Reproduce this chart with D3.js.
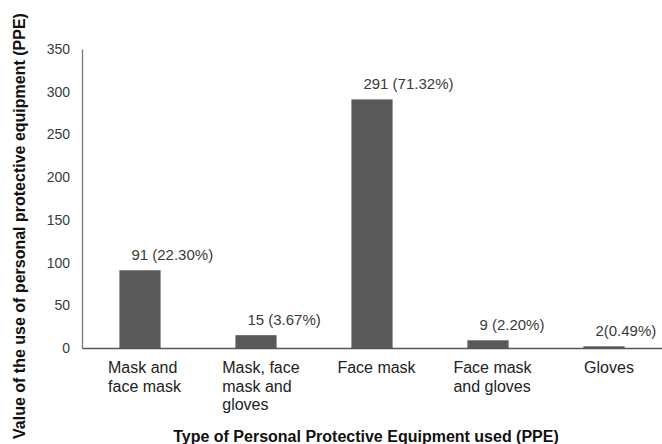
<!DOCTYPE html>
<html>
<head>
<meta charset="utf-8">
<script src="https://cdn.jsdelivr.net/npm/d3@7"></script>
<style>
  body { margin: 0; background: #fff; }
  text { font-family: "Liberation Sans", Arial, sans-serif; }
</style>
</head>
<body>
<div id="chart"></div>
<script>
// data
const categories = ['Mask and\nface mask', 'Mask, face\nmask and\ngloves', 'Face mask', 'Face mask\nand gloves', 'Gloves'];
const counts = [91, 15, 291, 9, 2];
const percents = ['(22.30%)', '(3.67%)', '(71.32%)', '(2.20%)', '(0.49%)'];
const yTicks = [0, 50, 100, 150, 200, 250, 300, 350];

const width = 662;
const height = 444;

const xScale = d3.scaleBand()
    .domain(categories)
    .range([82, 662])
    .paddingInner(0.645)
    .paddingOuter(0.3225);

const yScale = d3.scaleLinear()
    .domain([0, 350])
    .range([348, 49]);

let svg = d3.select('#chart')
    .append('svg')
        .attr('width', width)
        .attr('height', height);

// y axis, just the line and the numbers
let yAxis = svg.append('g')
    .attr('transform', 'translate(82,0)')
    .call(d3.axisLeft(yScale).tickValues(yTicks).tickSize(0).tickPadding(12));
yAxis.select('.domain').attr('stroke', '#777').attr('stroke-width', 1.3);
yAxis.selectAll('text')
    .attr('font-size', '14px')
    .attr('fill', '#3a3a3a')
    .attr('font-family', '"Liberation Sans", Arial, sans-serif');

// x axis line
let xAxis = svg.append('g')
    .attr('transform', `translate(0, ${yScale(0)})`)
    .call(d3.axisBottom(xScale).tickSize(0).tickFormat(''));
xAxis.select('.domain').attr('stroke', '#555').attr('stroke-width', 1.3);

// bars
svg.selectAll('rect.bar')
    .data(counts)
    .enter()
        .append('rect')
            .attr('class', 'bar')
            .attr('x', (d, i) => xScale(categories[i]))
            .attr('y', d => yScale(d))
            .attr('width', xScale.bandwidth())
            .attr('height', d => yScale(0) - yScale(d))
            .attr('fill', '#595959');

// value labels above bars
svg.selectAll('text.value')
    .data(counts)
    .enter()
        .append('text')
            .attr('class', 'value')
            .attr('x', (d, i) => xScale(categories[i]) + 12)
            .attr('y', d => yScale(d) - 10)
            .attr('font-size', '15px')
            .attr('fill', '#3a3a3a')
            .text((d, i) => d + (i == 4 ? '' : ' ') + percents[i]);

// category labels, left aligned lines, block centred on the band
categories.forEach((c, i) => {
    const lines = c.split('\n');
    let t = svg.append('text')
        .attr('font-size', '16px')
        .attr('fill', '#222');
    lines.forEach((line, j) => {
        t.append('tspan')
            .attr('x', 0)
            .attr('y', yScale(0) + 25 + j * 18.5)
            .text(line);
    });
    const w = t.node().getBBox().width;
    const cx = xScale(c) + xScale.bandwidth() / 2 + 5;
    t.attr('transform', `translate(${cx - w / 2}, 0)`);
});

// axis titles
svg.append('text')
    .attr('x', 366)
    .attr('y', 442)
    .attr('text-anchor', 'middle')
    .attr('font-size', '16px')
    .attr('font-weight', 'bold')
    .attr('fill', '#111')
    .text('Type of Personal Protective Equipment used (PPE)');

svg.append('text')
    .attr('x', -226)
    .attr('y', 25)
    .attr('transform', 'rotate(-90)')
    .attr('text-anchor', 'middle')
    .attr('font-size', '16px')
    .attr('font-weight', 'bold')
    .attr('fill', '#111')
    .text('Value of the use of personal protective equipment (PPE)');
</script>
</body>
</html>
